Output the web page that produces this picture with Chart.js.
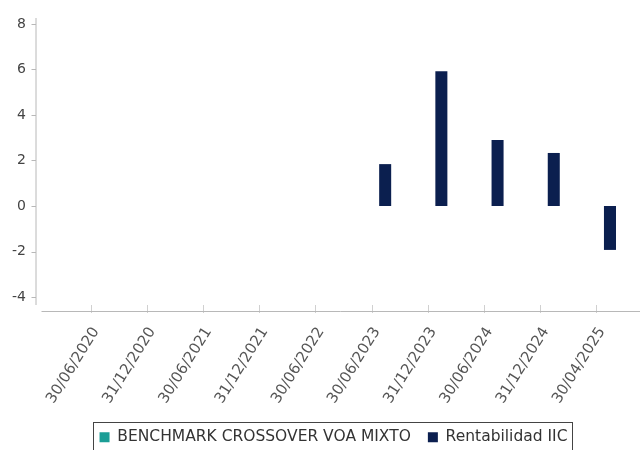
<!DOCTYPE html>
<html>
<head>
<meta charset="utf-8">
<script src="https://cdn.jsdelivr.net/npm/chart.js@4.4.1/dist/chart.umd.min.js"></script>
<style>
  html, body { margin: 0; padding: 0; background: #fff; }
  #wrap { width: 640px; height: 450px; }
</style>
</head>
<body>
<div id="wrap"><canvas id="myChart"></canvas></div>
<script>
const fechas = ['30/06/2020', '31/12/2020', '30/06/2021', '31/12/2021', '30/06/2022',
                '30/06/2023', '31/12/2023', '30/06/2024', '31/12/2024', '30/04/2025'];
const benchmark = [null, null, null, null, null, null, null, null, null, null];
const rentabilidad = [null, null, null, null, null, 1.84, 5.92, 2.9, 2.33, -1.93];
const yTicks = [-4, -2, 0, 2, 4, 6, 8];

// axis lines sit a bit away from the plot, and the legend has a frame
const axisLines = {
    id: 'axisLines',
    afterUpdate(chart) {
        const L = chart.legend;
        L.left += 21;
        L.right += 21;
        L.legendHitBoxes.forEach(h => { h.left += 21; });
    },
    afterDraw(chart) {
        const c = chart.ctx;
        const area = chart.chartArea;
        const y = chart.scales.y;
        const ax = area.left - 27.5;
        c.save();
        c.strokeStyle = '#b8b8b8';
        c.lineWidth = 1;
        c.beginPath();
        c.moveTo(ax + 0.5, area.top);
        c.lineTo(ax + 0.5, area.bottom);
        yTicks.forEach(v => {
            const py = Math.round(y.getPixelForValue(v)) + 0.5;
            c.moveTo(ax - 4, py);
            c.lineTo(ax + 0.5, py);
        });
        c.moveTo(ax + 6, area.bottom + 6.5);
        c.lineTo(chart.width, area.bottom + 6.5);
        c.stroke();

        const boxes = chart.legend.legendHitBoxes;
        if (boxes && boxes.length) {
            const first = boxes[0];
            const last = boxes[boxes.length - 1];
            const left = Math.round(first.left - 6.5) + 0.5;
            const top = Math.round(first.top - 7.5) + 0.5;
            c.strokeStyle = '#444';
            c.strokeRect(left, top, Math.round(last.left + last.width + 5 - left), 40);
        }
        c.restore();
    }
};

new Chart(document.getElementById('myChart'), {
    type: 'bar',
    data: {
        labels: fechas,
        datasets: [{
            label: 'BENCHMARK CROSSOVER VOA MIXTO',
            data: benchmark,
            backgroundColor: '#1b9e96'
        }, {
            label: 'Rentabilidad IIC',
            data: rentabilidad,
            backgroundColor: '#0b1f4f'
        }]
    },
    options: {
        responsive: true,
        maintainAspectRatio: false,
        animation: false,
        categoryPercentage: 0.93,
        barPercentage: 0.46,
        layout: { padding: { top: 18, right: 15, left: 0, bottom: -5 } },
        plugins: {
            tooltip: { enabled: false },
            legend: {
                position: 'bottom',
                labels: {
                    boxWidth: 10,
                    boxHeight: 10,
                    padding: 17,
                    color: '#333',
                    font: { family: 'DejaVu Sans', size: 15.5 }
                }
            }
        },
        scales: {
            x: {
                border: { display: false },
                grid: { drawOnChartArea: false, offset: false, tickLength: 8, color: '#d0d0d0' },
                ticks: {
                    minRotation: 58,
                    maxRotation: 58,
                    color: '#555',
                    padding: 11,
                    labelOffset: 5,
                    font: { family: 'DejaVu Sans', size: 15 }
                },
                afterFit: s => { s.height = 107.5; }
            },
            y: {
                min: -4.35,
                max: 8.26,
                border: { display: false },
                grid: { display: false, drawTicks: false },
                afterBuildTicks: s => { s.ticks = yTicks.map(v => ({ value: v })); },
                ticks: {
                    color: '#444',
                    padding: 37,
                    font: { family: 'DejaVu Sans', size: 14 }
                },
                afterFit: s => {
                    s.width = 63;
                    s.paddingTop = 0;
                    s.paddingBottom = 0;
                }
            }
        }
    },
    plugins: [axisLines]
});
</script>
</body>
</html>
